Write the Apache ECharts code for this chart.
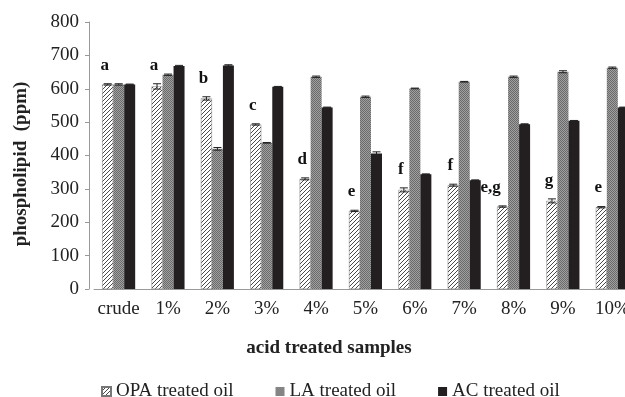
<!DOCTYPE html>
<html><head><meta charset="utf-8">
<script src="https://cdn.jsdelivr.net/npm/echarts@6/dist/echarts.min.js"></script>
<style>html,body{margin:0;padding:0;background:#fff;overflow:hidden}#c{width:645px;height:397px}</style>
</head><body><div id="c"></div>
<script>
const categories = ['crude','1%','2%','3%','4%','5%','6%','7%','8%','9%','10%'];
const opaValues = [613,607,571,493,330,234,297,311,247,264,245];
const laValues  = [613,642,420,438,636,576,601,621,636,651,663];
const acValues  = [613,668,670,606,544,406,344,326,494,504,544];
const opaErr = [2,8,5,2,3,2,6,3,2,6,2];
const laErr  = [2,2,4,1,2,2,1,1,2,3,2];
const acErr  = [1,2,2,1,1,5,1,1,1,1,1];
const letters = ['a','a','b','c','d','e','f','f','e,g','g','e'];
const yTicks = [0,100,200,300,400,500,600,700,800];
const seriesNames = ['OPA treated oil','LA treated oil','AC treated oil'];
const xTitle = 'acid treated samples';
const yTitle = 'phospholipid  (ppm)';

const FONT = '"Liberation Serif","DejaVu Serif",serif';
function hatch(){
  const c=document.createElement('canvas');c.width=4;c.height=4;
  const g=c.getContext('2d');g.fillStyle='#fff';g.fillRect(0,0,4,4);
  g.strokeStyle='#4a4a4a';g.lineWidth=1;
  g.beginPath();g.moveTo(-1,5);g.lineTo(5,-1);g.stroke();
  g.beginPath();g.moveTo(-1,1);g.lineTo(1,-1);g.stroke();
  g.beginPath();g.moveTo(3,5);g.lineTo(5,3);g.stroke();
  return c;
}
function checker(){
  const c=document.createElement('canvas');c.width=2;c.height=2;
  const g=c.getContext('2d');
  g.fillStyle='#a0a0a0';g.fillRect(0,0,2,2);
  g.fillStyle='#6a6a6a';g.fillRect(0,0,1,1);g.fillRect(1,1,1,1);
  return c;
}
const colors=[{image:hatch(),repeat:'repeat'},{image:checker(),repeat:'repeat'},'#231f20'];
const BW=11;
const vals=[opaValues,laValues,acValues];
const errs=[opaErr,laErr,acErr];

function errSeries(si){
  return {
    type:'custom', silent:true, z:5,
    data: categories.map((c,i)=>[i, vals[si][i], errs[si][i]]),
    renderItem:(params,api)=>{
      const i=api.value(0), v=api.value(1), e=api.value(2);
      const p0=api.coord([i,v]);
      const x=p0[0]+(si-1)*BW;
      const yt=api.coord([i,v+e])[1], yb=api.coord([i,v-e])[1];
      const st={stroke:'#222',lineWidth:1};
      return {type:'group',children:[
        {type:'line',shape:{x1:x,y1:yt,x2:x,y2:yb},style:st},
        {type:'line',shape:{x1:x-4,y1:yt,x2:x+4,y2:yt},style:st},
        {type:'line',shape:{x1:x-4,y1:yb,x2:x+4,y2:yb},style:st}
      ]};
    }
  };
}

const chart=echarts.init(document.getElementById('c'),null,{renderer:'canvas'});
chart.setOption({
  animation:false,
  backgroundColor:'#fff',
  grid:{left:94,top:22,bottom:108,width:543,containLabel:false},
  title:{text:xTitle,left:324,textAlign:'center',top:334,
    textStyle:{fontFamily:FONT,fontSize:19,fontWeight:'bold',color:'#222'}},
  graphic:[{type:'text',x:21,y:164,rotation:Math.PI/2,
    style:{text:yTitle,align:'center',verticalAlign:'middle',
      font:'bold 19px '+FONT,fill:'#222'}}],
  legend:{data:seriesNames,left:96,top:377,itemWidth:9,itemHeight:9,itemGap:42,
    icon:'rect',textStyle:{fontFamily:FONT,fontSize:19,color:'#222'}},
  xAxis:{type:'category',data:categories,
    axisLine:{lineStyle:{color:'#999',width:1}},axisTick:{show:false},
    axisLabel:{interval:0,fontFamily:FONT,fontSize:19,color:'#222',margin:11}},
  yAxis:{type:'value',min:0,max:800,interval:100,offset:5,
    axisLine:{show:true,lineStyle:{color:'#999'}},
    axisTick:{show:true,length:4,lineStyle:{color:'#999'}},
    splitLine:{show:false},
    axisLabel:{fontFamily:FONT,fontSize:19,color:'#222',margin:10,
      formatter:v=>yTicks.includes(v)?String(v):''}},
  series:[
    {name:seriesNames[0],type:'bar',data:opaValues,barWidth:BW,barGap:'0%',
      itemStyle:{color:colors[0],borderColor:'#777',borderWidth:0.5}},
    {name:seriesNames[1],type:'bar',data:laValues,barWidth:BW,barGap:'0%',
      itemStyle:{color:colors[1]}},
    {name:seriesNames[2],type:'bar',data:acValues,barWidth:BW,barGap:'0%',
      itemStyle:{color:colors[2]}},
    errSeries(0),errSeries(1),errSeries(2),
    {type:'custom',silent:true,z:6,
      data:categories.map((c,i)=>[i,opaValues[i]+opaErr[i]]),
      renderItem:(params,api)=>{
        const i=api.value(0), v=api.value(1);
        const p=api.coord([i,v]);
        const t=letters[i];
        return {type:'text',style:{text:t,x:p[0]-BW-(t.length>1?12:3),y:p[1]-10,
          align:'center',verticalAlign:'bottom',
          font:'bold 17px '+FONT,fill:'#111'}};
      }}
  ]
});
</script></body></html>
